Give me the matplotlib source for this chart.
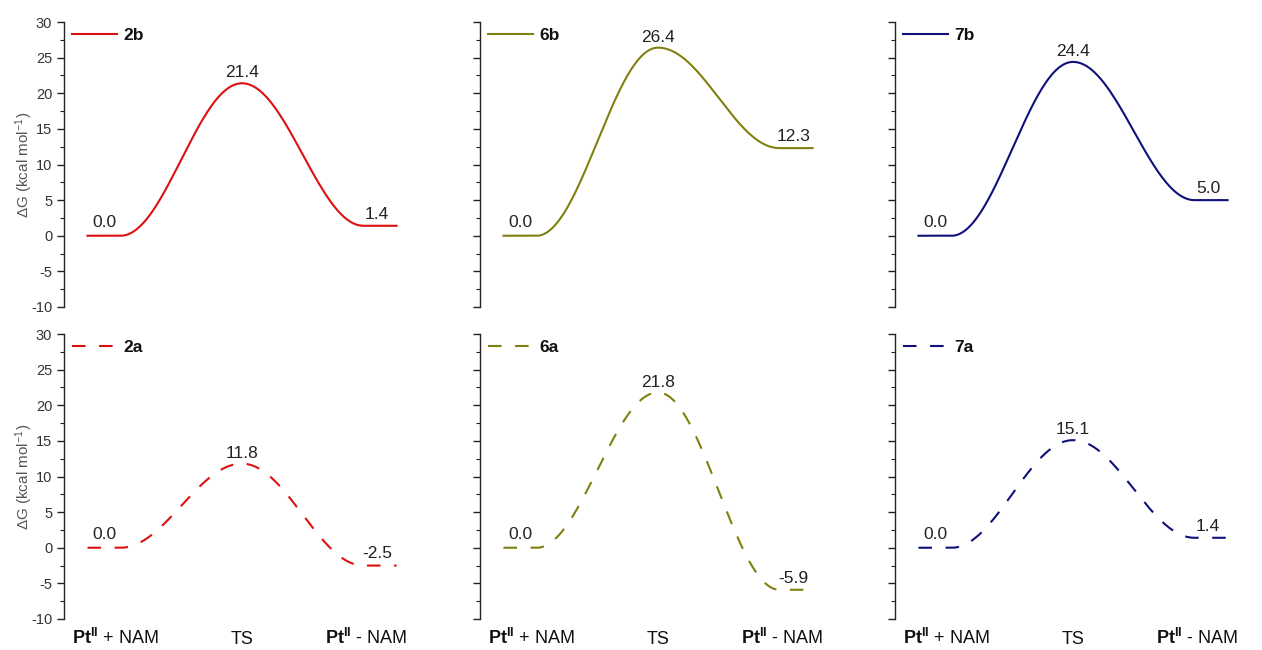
import numpy as np
import matplotlib
matplotlib.use("Agg")
import matplotlib.pyplot as plt
from matplotlib.ticker import MultipleLocator

plt.rcParams["font.family"] = ["Liberation Sans", "DejaVu Sans"]
plt.rcParams["mathtext.fontset"] = "custom"
plt.rcParams["mathtext.rm"] = "Liberation Sans"
plt.rcParams["mathtext.it"] = "Liberation Sans:italic"
plt.rcParams["mathtext.bf"] = "Liberation Sans:bold"
plt.rcParams["axes.unicode_minus"] = False

# Reaction coordinate stages
stages = ["reactant", "TS", "product"]
stage_labels = [r"$\mathbf{Pt^{II}}$ + NAM", "TS", r"$\mathbf{Pt^{II}}$ - NAM"]

# Free energies (kcal/mol) for each complex: reactant, TS, product
energy_2b = [0.0, 21.4, 1.4]
energy_6b = [0.0, 26.4, 12.3]
energy_7b = [0.0, 24.4, 5.0]
energy_2a = [0.0, 11.8, -2.5]
energy_6a = [0.0, 21.8, -5.9]
energy_7a = [0.0, 15.1, 1.4]

names_top = ["2b", "6b", "7b"]
names_bottom = ["2a", "6a", "7a"]
colors = ["#dd1010", "#808010", "#10107a"]


def profile(levels, flat=0.12, n=200):
    """Smooth energy profile: flat plateaus at the end states joined to the
    TS by cosine easing."""
    xs, ys = [], []
    pos = np.arange(len(levels), dtype=float)
    # left plateau
    xs.append(np.linspace(pos[0] - flat, pos[0] + flat, 20))
    ys.append(np.full(20, levels[0]))
    # rise to TS
    t = np.linspace(0, 1, n)
    xs.append(pos[0] + flat + (pos[1] - pos[0] - flat) * t)
    ys.append(levels[0] + (levels[1] - levels[0]) * (1 - np.cos(np.pi * t)) / 2)
    # fall to product
    xs.append(pos[1] + (pos[2] - flat - pos[1]) * t)
    ys.append(levels[1] + (levels[2] - levels[1]) * (1 - np.cos(np.pi * t)) / 2)
    # right plateau
    xs.append(np.linspace(pos[2] - flat, pos[2] + flat, 20))
    ys.append(np.full(20, levels[2]))
    return np.concatenate(xs), np.concatenate(ys)


fig = plt.figure(figsize=(12.62, 6.5), dpi=100)
W, H = 1262.0, 650.0
col_left = [64, 480, 895]
ax_w = 336
row_top = [22, 334]
ax_h = 285

data_rows = [
    [energy_2b, energy_6b, energy_7b],
    [energy_2a, energy_6a, energy_7a],
]
name_rows = [names_top, names_bottom]
styles = ["-", "--"]

text_col = "#222222"

for r in range(2):
    for c in range(3):
        left = col_left[c] / W
        bottom = 1 - (row_top[r] + ax_h) / H
        ax = fig.add_axes([left, bottom, ax_w / W, ax_h / H])
        levels = data_rows[r][c]
        x, y = profile(levels)
        line, = ax.plot(x, y, color=colors[c], lw=1.5, linestyle=styles[r],
                        label=name_rows[r][c])
        if styles[r] == "--":
            line.set_dashes((6.5, 6.5))

        # value annotations
        ax.annotate(f"{levels[0]:.1f}", (0, levels[0]), xytext=(0, 4),
                    textcoords="offset points", ha="center", va="bottom",
                    fontsize=12.5, color=text_col)
        ax.annotate(f"{levels[1]:.1f}", (1, levels[1]), xytext=(0, 2),
                    textcoords="offset points", ha="center", va="bottom",
                    fontsize=12.5, color=text_col)
        ax.annotate(f"{levels[2]:.1f}", (2 - 0.02, levels[2]), xytext=(0, 3),
                    textcoords="offset points", ha="center", va="bottom",
                    fontsize=12.5, color=text_col)

        ax.set_xlim(-0.29, 2.145)
        ax.set_ylim(-10, 30)
        for s in ["top", "right", "bottom"]:
            ax.spines[s].set_visible(False)
        ax.spines["left"].set_color("#222222")
        ax.spines["left"].set_linewidth(1.0)
        ax.yaxis.set_major_locator(MultipleLocator(5))
        ax.yaxis.set_minor_locator(MultipleLocator(2.5))
        ax.tick_params(axis="y", which="major", direction="out", length=5,
                       width=1.0, color="#222222", labelsize=10.5,
                       labelcolor="#333333", pad=3.5)
        ax.tick_params(axis="y", which="minor", direction="out", length=3,
                       width=0.8, color="#222222")
        if c != 0:
            ax.tick_params(axis="y", which="both", labelleft=False)
        else:
            ax.set_ylabel(r"$\Delta$G (kcal mol$^{\mathregular{-1}}$)",
                          fontsize=11, color="#555555", labelpad=-3)

        if r == 1:
            ax.set_xticks([0.08, 1, 1.9])
            ax.set_xticklabels(stage_labels, fontsize=13, color="#111111")
            ax.tick_params(axis="x", length=0, pad=18)
            for lbl in ax.get_xticklabels():
                lbl.set_verticalalignment("baseline")
        else:
            ax.set_xticks([])

        leg = ax.legend(loc="upper left", bbox_to_anchor=(0.024, 0.979),
                        frameon=False, borderaxespad=0, borderpad=0,
                        handlelength=2.6, handletextpad=0.35,
                        prop={"weight": "bold", "size": 12.5})
        for t in leg.get_texts():
            t.set_color("#111111")

fig.savefig("out.png", dpi=100)
